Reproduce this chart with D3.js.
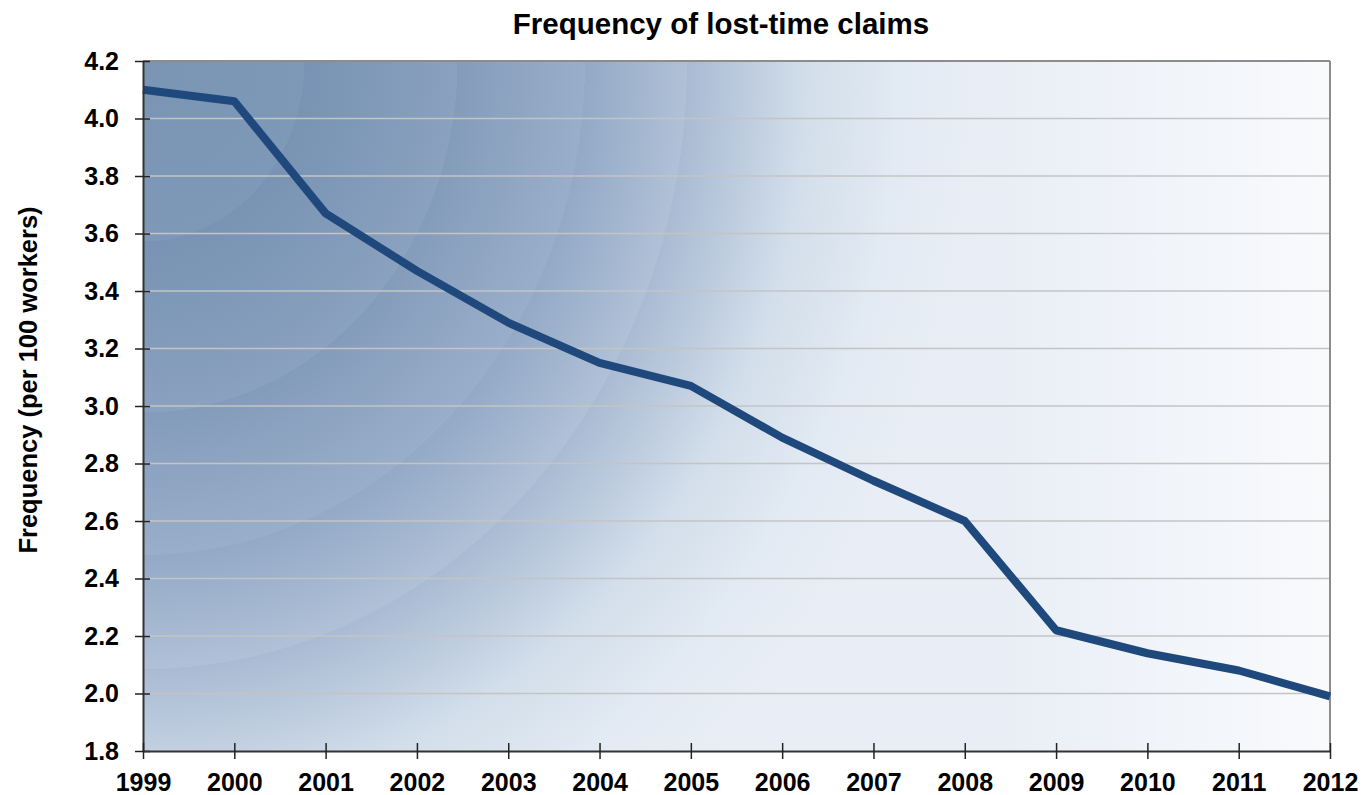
<!DOCTYPE html>
<html>
<head>
<meta charset="utf-8">
<script src="https://cdn.jsdelivr.net/npm/d3@7"></script>
<style>
  html, body { margin: 0; padding: 0; background: #ffffff; }
  svg { display: block; font-family: Arial, "Liberation Sans", Helvetica, sans-serif; }
</style>
</head>
<body>
<svg id="chart" width="1362" height="795"></svg>
<script>
// Lost-time claims per 100 workers, by year
const years = [1999, 2000, 2001, 2002, 2003, 2004, 2005, 2006, 2007, 2008, 2009, 2010, 2011, 2012];
const frequency = [4.10, 4.06, 3.67, 3.47, 3.29, 3.15, 3.07, 2.89, 2.74, 2.60, 2.22, 2.14, 2.08, 1.99];
const yTicks = [1.8, 2.0, 2.2, 2.4, 2.6, 2.8, 3.0, 3.2, 3.4, 3.6, 3.8, 4.0, 4.2];

const svg = d3.select("#chart");
const margin = { left: 143, right: 32, top: 61, bottom: 44 };
const W = 1362, H = 795;
const iw = W - margin.left - margin.right;
const ih = H - margin.top - margin.bottom;

const x = d3.scaleLinear().domain([1999, 2012]).range([0, iw]);
const y = d3.scaleLinear().domain([1.8, 4.2]).range([ih, 0]);

const defs = svg.append("defs");
// elliptical shading that spreads out from the top-left corner, in soft rings
const rg = defs.append("radialGradient")
  .attr("id", "bgRadial")
  .attr("gradientUnits", "userSpaceOnUse")
  .attr("cx", 0).attr("cy", 0).attr("r", 1)
  .attr("gradientTransform", "scale(850,950)");
[
  [0.00, "#7a94b4"], [0.19, "#7e98b8"], [0.19, "#7893b3"],
  [0.37, "#8aa1bf"], [0.37, "#849cbb"],
  [0.52, "#99aeca"], [0.52, "#93a9c6"],
  [0.64, "#b0c1d7"], [0.64, "#a9bbd3"],
  [0.72, "#c0cee0"], [0.78, "#d2deea"],
  [0.89, "#e2eaf3"], [1.00, "#e9eef6"]
].forEach(([o, c]) => rg.append("stop").attr("offset", o).attr("stop-color", c));

// brightening towards the right edge
const lg = defs.append("linearGradient")
  .attr("id", "bgFade")
  .attr("gradientUnits", "userSpaceOnUse")
  .attr("x1", iw * 0.72).attr("y1", 0).attr("x2", iw).attr("y2", 0);
lg.append("stop").attr("offset", 0).attr("stop-color", "#ffffff").attr("stop-opacity", 0);
lg.append("stop").attr("offset", 1).attr("stop-color", "#ffffff").attr("stop-opacity", 0.72);

const g = svg.append("g").attr("transform", `translate(${margin.left},${margin.top})`);

// plot area background
g.append("rect").attr("width", iw).attr("height", ih).attr("fill", "url(#bgRadial)");
g.append("rect").attr("width", iw).attr("height", ih).attr("fill", "url(#bgFade)");

// horizontal gridlines
g.append("g")
  .selectAll("line")
  .data(yTicks.slice(1, -1))
  .join("line")
  .attr("x1", 0).attr("x2", iw)
  .attr("y1", d => y(d)).attr("y2", d => y(d))
  .attr("stroke", "#c4c4c4")
  .attr("stroke-width", 1.5);

// frame: top and right edges
g.append("line").attr("x1", 0).attr("x2", iw).attr("y1", 0).attr("y2", 0)
  .attr("stroke", "#8c8c8c").attr("stroke-width", 2);
g.append("line").attr("x1", iw).attr("x2", iw).attr("y1", 0).attr("y2", ih)
  .attr("stroke", "#8c8c8c").attr("stroke-width", 2);

// data line
const line = d3.line().x((d, i) => x(years[i])).y(d => y(d));
g.append("path")
  .datum(frequency)
  .attr("d", line)
  .attr("fill", "none")
  .attr("stroke", "#1f497d")
  .attr("stroke-width", 8)
  .attr("stroke-linejoin", "round");

// axes
const yAxis = d3.axisLeft(y).tickValues(yTicks).tickFormat(d3.format(".1f"))
  .tickSizeInner(8).tickSizeOuter(0).tickPadding(16);
const yg = g.append("g").call(yAxis);
yg.selectAll(".tick line").attr("x2", 7).attr("x1", -8).attr("stroke", "#222").attr("stroke-width", 1.5);

const xAxis = d3.axisBottom(x).tickValues(years).tickFormat(d3.format("d"))
  .tickSizeInner(8).tickSizeOuter(0).tickPadding(14);
const xg = g.append("g").attr("transform", `translate(0,${ih})`).call(xAxis);
xg.selectAll(".tick line").attr("y1", -8).attr("y2", 8).attr("stroke", "#222").attr("stroke-width", 1.5);

[yg, xg].forEach(a => {
  a.select(".domain").attr("stroke", "#333").attr("stroke-width", 2);
  a.selectAll(".tick text")
    .attr("fill", "#000")
    .style("font-size", "25px")
    .style("font-weight", "bold");
});

// title
svg.append("text")
  .attr("x", 721).attr("y", 34)
  .attr("text-anchor", "middle")
  .style("font-size", "29.5px").style("font-weight", "bold")
  .text("Frequency of lost-time claims");

// y-axis label
svg.append("text")
  .attr("transform", "translate(37,380) rotate(-90)")
  .attr("text-anchor", "middle")
  .style("font-size", "25.5px").style("font-weight", "bold")
  .text("Frequency (per 100 workers)");
</script>
</body>
</html>
